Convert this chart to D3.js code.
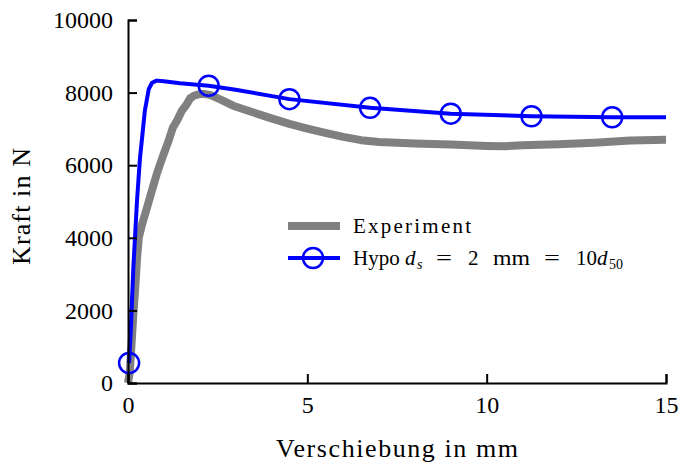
<!DOCTYPE html>
<html><head><meta charset="utf-8">
<script src="https://cdn.jsdelivr.net/npm/d3@7"></script>
<style>body{margin:0;background:#fff}svg{display:block}text{font-family:"Liberation Serif","Times New Roman",serif;fill:#000}</style>
</head><body><svg id="c" width="682" height="465"></svg>
<script>
const xTicks = [0, 5, 10, 15];
const yTicks = [0, 2000, 4000, 6000, 8000, 10000];
const experimentX = [0,0.05,0.1,0.15,0.2,0.25,0.3,0.4,0.55,0.68,0.8,0.92,1.03,1.14,1.25,1.38,1.5,1.62,1.73,1.85,2.0,2.15,2.3,2.6,2.93,3.5,4.0,4.5,5.0,5.5,6.0,6.5,7,8,9,10,10.5,11,12,13,14,15];
const experimentY = [0,300,1100,1900,2600,3400,4000,4400,4900,5350,5750,6100,6400,6700,7030,7250,7500,7650,7840,7920,7960,7960,7930,7800,7640,7450,7290,7140,7010,6890,6780,6690,6640,6600,6570,6530,6520,6550,6580,6620,6680,6700];
const hypoX = [0.03,0.08,0.15,0.25,0.33,0.47,0.58,0.67,0.8,1.0,1.45,2.25,3.0,4.5,6.75,9.0,11.25,13.5,15];
const hypoY = [550,1500,3200,5000,6150,7500,8100,8270,8330,8310,8260,8190,8080,7820,7580,7420,7350,7320,7320];
const hypoMarkerX = [0.03,2.25,4.5,6.75,9.0,11.25,13.5];

const svg = d3.select("#c");
const m = {l:128, r:16, t:20, b:82};
const W = 682, H = 465;
const x = d3.scaleLinear().domain([0,15]).range([m.l, W-m.r]);
const y = d3.scaleLinear().domain([0,10000]).range([H-m.b, m.t]);

const exp = experimentX.map((v,i)=>[v, experimentY[i]]);
const hyp = hypoX.map((v,i)=>[v, hypoY[i]]);
const line = d3.line().x(d=>x(d[0])).y(d=>y(d[1]));

svg.append("path").attr("d", line(exp)).attr("fill","none").attr("stroke","#808080").attr("stroke-width",8).attr("stroke-linejoin","round");
svg.append("path").attr("d", line(hyp)).attr("fill","none").attr("stroke","#0000ff").attr("stroke-width",4).attr("stroke-linejoin","round");
svg.selectAll("circle.mk").data(hyp.filter(d=>hypoMarkerX.includes(d[0]))).enter().append("circle")
  .attr("cx",d=>x(d[0])).attr("cy",d=>y(d[1])).attr("r",10)
  .attr("fill","none").attr("stroke","#0000ff").attr("stroke-width",2.5);

// axes
const xa = svg.append("g").attr("transform",`translate(0,${H-m.b})`)
  .call(d3.axisBottom(x).tickValues(xTicks).tickSize(-9).tickPadding(13).tickFormat(d3.format("d")));
const ya = svg.append("g").attr("transform",`translate(${m.l},0)`)
  .call(d3.axisLeft(y).tickValues(yTicks).tickSize(-9).tickPadding(15).tickFormat(d3.format("d")));
[xa,ya].forEach(g=>{
  g.select(".domain").attr("stroke","#000").attr("stroke-width",2);
  g.selectAll(".tick line").attr("stroke","#000").attr("stroke-width",2);
  g.selectAll(".tick text").style("font-size","24px").style("font-family","Liberation Serif, serif").attr("fill","#000");
});
xa.selectAll(".tick text").attr("dy","0.72em");

svg.append("text").attr("x",(m.l+W-m.r)/2).attr("y",457).attr("text-anchor","middle").style("font-size","26px")
  .attr("textLength",242).attr("lengthAdjust","spacing").text("Verschiebung in mm");
svg.append("text").attr("transform",`translate(30,${(m.t+H-m.b)/2+5}) rotate(-90)`).attr("text-anchor","middle").style("font-size","26px")
  .attr("textLength",117).attr("lengthAdjust","spacing").text("Kraft in N");

// legend
const lg = svg.append("g");
lg.append("line").attr("x1",288).attr("x2",340).attr("y1",226).attr("y2",226).attr("stroke","#808080").attr("stroke-width",8);
lg.append("text").attr("x",353).attr("y",233).style("font-size","21px")
  .attr("textLength",118).attr("lengthAdjust","spacing").text("Experiment");
lg.append("line").attr("x1",288).attr("x2",340).attr("y1",258).attr("y2",258).attr("stroke","#0000ff").attr("stroke-width",4);
lg.append("circle").attr("cx",313).attr("cy",258).attr("r",10).attr("fill","none").attr("stroke","#0000ff").attr("stroke-width",2.5);
const base = 265;
const pieces = [
  {t:"Hypo", x:353, s:21},
  {t:"d", x:405, s:21, i:true},
  {t:"s", x:417, s:14, i:true, sub:true},
  {t:"=", x:436, s:21, L:16, g:true},
  {t:"2", x:468, s:21},
  {t:"mm", x:493, s:21, L:37, g:true},
  {t:"=", x:544, s:21, L:16, g:true},
  {t:"10", x:576, s:21},
  {t:"d", x:597, s:21, i:true},
  {t:"50", x:609, s:14, sub:true}
];
pieces.forEach(p=>{
  const e = lg.append("text").attr("x",p.x).attr("y",base+(p.sub?4:0)).style("font-size",p.s+"px")
    .style("font-style",p.i?"italic":"normal").text(p.t);
  if(p.L) e.attr("textLength",p.L).attr("lengthAdjust",p.g?"spacingAndGlyphs":"spacing");
});
</script></body></html>
